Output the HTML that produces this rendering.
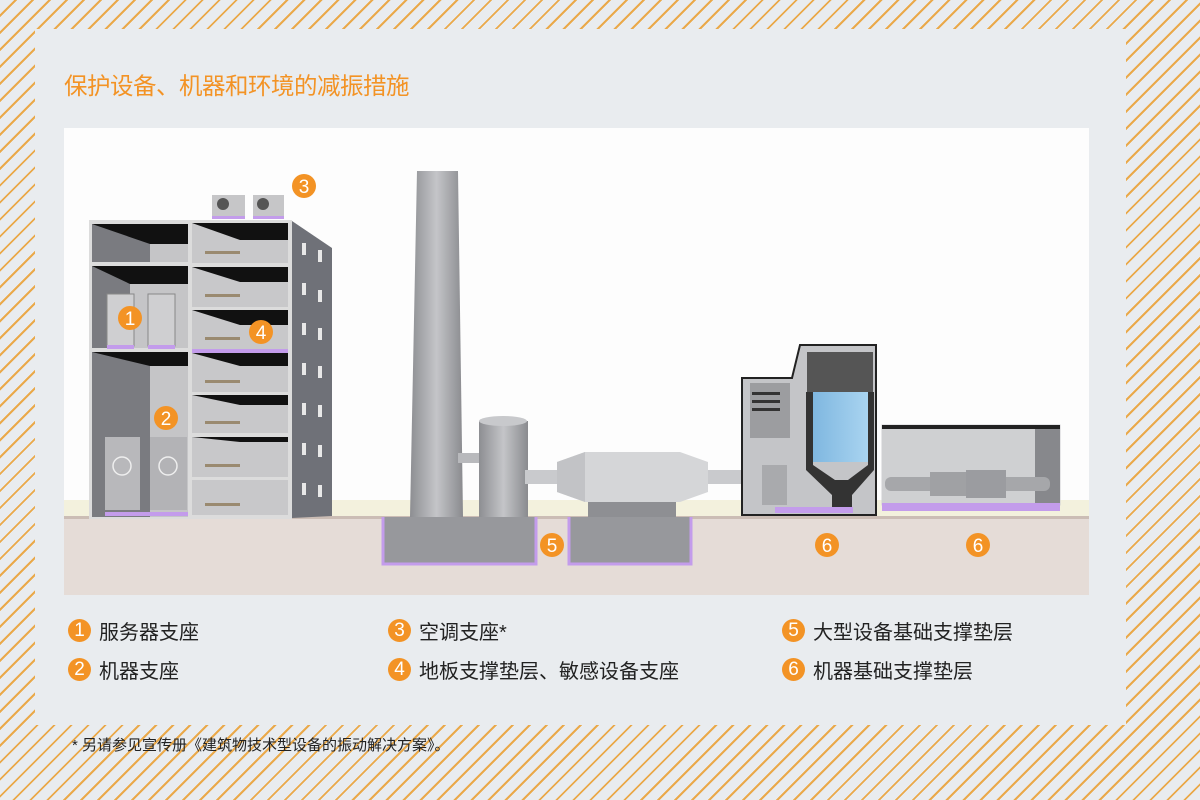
<!DOCTYPE html>
<html><head><meta charset="utf-8"><style>
html,body{margin:0;padding:0}
body{width:1200px;height:800px;overflow:hidden;position:relative;background-color:#e9ecef;
background-image:repeating-linear-gradient(-45deg,#e9ecef 0px,#e9ecef 10px,#eaa94a 10px,#eaa94a 12px);font-family:"Liberation Sans","Noto Sans CJK SC",sans-serif}
.panel{position:absolute;left:35px;top:29px;width:1091px;height:696px;background:#e9ecef}
.title{position:absolute;left:64px;top:67px;font-size:23.5px;color:#f39325;letter-spacing:-0.5px}
.leg{position:absolute;font-size:20px;color:#222;display:flex;align-items:center}
.num{display:inline-block;width:23px;height:23px;border-radius:50%;background:#f39325;color:#fff;font-size:19px;line-height:24px;text-align:center;margin-right:8px}
.foot{position:absolute;left:72px;top:734px;font-size:15px;color:#222}
</style></head><body>
<div class="panel"></div>
<div class="title">保护设备、机器和环境的减振措施</div>
<svg style="position:absolute;left:0;top:0" width="1200" height="800">
<defs>
<linearGradient id="cyl" x1="0" x2="1"><stop offset="0" stop-color="#8d8e92"/><stop offset="0.5" stop-color="#c4c5c8"/><stop offset="1" stop-color="#8a8b8f"/></linearGradient>
<linearGradient id="blue" x1="0" x2="1"><stop offset="0" stop-color="#7fb7e0"/><stop offset="1" stop-color="#a9d4f0"/></linearGradient>
</defs>
<rect x="64" y="128" width="1025" height="467" fill="#fdfdfd"/>
<rect x="64" y="500" width="1025" height="17" fill="#f3f1dd"/>
<rect x="64" y="516" width="1025" height="79" fill="#e5dcd7"/>
<rect x="64" y="516" width="1025" height="3" fill="#cbbdb5"/>
<rect x="89" y="220" width="203" height="299" fill="#dcdcdc"/>
<polygon points="292,221 332,248 332,516 292,518" fill="#6f7178"/>
<g fill="#e8e8e8">
<rect x="302" y="243" width="4" height="12"/><rect x="318" y="250" width="4" height="12"/>
<rect x="302" y="283" width="4" height="12"/><rect x="318" y="290" width="4" height="12"/>
<rect x="302" y="323" width="4" height="12"/><rect x="318" y="328" width="4" height="12"/>
<rect x="302" y="363" width="4" height="12"/><rect x="318" y="366" width="4" height="12"/>
<rect x="302" y="403" width="4" height="12"/><rect x="318" y="405" width="4" height="12"/>
<rect x="302" y="443" width="4" height="12"/><rect x="318" y="445" width="4" height="12"/>
<rect x="302" y="483" width="4" height="12"/><rect x="318" y="485" width="4" height="12"/>
</g>
<rect x="92" y="224" width="96" height="38" fill="#7a7b80"/><polygon points="92,224 188,224 188,244 150,244" fill="#111"/><rect x="150" y="244" width="38" height="18" fill="#c5c5c7"/>
<rect x="92" y="266" width="96" height="82" fill="#7a7b80"/><polygon points="92,266 188,266 188,284 130,284" fill="#111"/><rect x="130" y="284" width="58" height="64" fill="#c5c5c7"/>
<rect x="107" y="294" width="27" height="52" fill="#cfcfd1" stroke="#888" stroke-width="1"/><rect x="148" y="294" width="27" height="52" fill="#cfcfd1" stroke="#888"/>
<rect x="92" y="352" width="96" height="165" fill="#7a7b80"/><polygon points="92,352 188,352 188,366 150,366" fill="#111"/><rect x="150" y="366" width="38" height="151" fill="#c5c5c7"/>
<rect x="105" y="437" width="35" height="73" fill="#b8b8bb"/><rect x="150" y="437" width="37" height="73" fill="#b3b3b6"/>
<circle cx="122" cy="466" r="9" fill="none" stroke="#eee" stroke-width="1.5"/><circle cx="168" cy="466" r="9" fill="none" stroke="#eee" stroke-width="1.5"/>
<g>
<rect x="192" y="223" width="96" height="40" fill="#c8c8ca"/><polygon points="192,223 288,223 288,240 240,240" fill="#111"/>
<rect x="192" y="267" width="96" height="40" fill="#c8c8ca"/><polygon points="192,267 288,267 288,282 240,282" fill="#111"/>
<rect x="192" y="310" width="96" height="40" fill="#c8c8ca"/><polygon points="192,310 288,310 288,325 240,325" fill="#111"/>
<rect x="192" y="353" width="96" height="39" fill="#c8c8ca"/><polygon points="192,353 288,353 288,366 240,366" fill="#111"/>
<rect x="192" y="395" width="96" height="38" fill="#c8c8ca"/><polygon points="192,395 288,395 288,405 240,405" fill="#111"/>
<rect x="192" y="437" width="96" height="40" fill="#c8c8ca"/><polygon points="192,437 288,437 288,442 240,442" fill="#111"/>
<rect x="192" y="480" width="96" height="35" fill="#c8c8ca"/>
</g>
<g fill="#9a8a70"><rect x="205" y="251" width="35" height="3"/><rect x="205" y="294" width="35" height="3"/><rect x="205" y="337" width="35" height="3"/><rect x="205" y="380" width="35" height="3"/><rect x="205" y="421" width="35" height="3"/><rect x="205" y="464" width="35" height="3"/><rect x="205" y="503" width="35" height="3"/></g>
<rect x="212" y="195" width="33" height="23" fill="#c6c6c8"/><rect x="253" y="195" width="31" height="23" fill="#c6c6c8"/>
<circle cx="223" cy="204" r="6" fill="#555"/><circle cx="263" cy="204" r="6" fill="#555"/>
<g fill="#c39ceb">
<rect x="212" y="216" width="33" height="3"/><rect x="253" y="216" width="31" height="3"/>
<rect x="107" y="345" width="27" height="4"/><rect x="148" y="345" width="27" height="4"/>
<rect x="192" y="349" width="96" height="4"/>
<rect x="105" y="512" width="83" height="4"/>
</g>
<polygon points="417,171 458,171 463,517 410,517" fill="url(#cyl)"/>
<rect x="458" y="453" width="24" height="10" fill="#b8b9bc"/>
<rect x="479" y="421" width="49" height="96" fill="url(#cyl)"/><ellipse cx="503" cy="421" rx="24" ry="5" fill="#c8c9cc"/>
<rect x="525" y="470" width="35" height="14" fill="#c9cacd"/>
<polygon points="557,462 585,452 680,452 708,462 708,492 680,502 585,502 557,492" fill="#d5d6d8"/>
<polygon points="557,462 585,452 585,502 557,492" fill="#c2c3c6"/>
<rect x="588" y="502" width="88" height="15" fill="#8e8f93"/>
<rect x="708" y="470" width="36" height="14" fill="#c9cacd"/>
<rect x="383" y="517" width="153" height="47" fill="#97989c"/>
<rect x="569" y="517" width="122" height="47" fill="#97989c"/>
<path d="M383,517 V564 H536 V517" fill="none" stroke="#c39ceb" stroke-width="3"/>
<path d="M569,517 V564 H691 V517" fill="none" stroke="#c39ceb" stroke-width="3"/>
<polygon points="742,378 792,378 800,345 876,345 876,515 742,515" fill="#c4c5c8" stroke="#222" stroke-width="2"/>
<rect x="807" y="352" width="66" height="40" fill="#555"/>
<rect x="813" y="392" width="55" height="70" fill="url(#blue)"/>
<polygon points="806,392 813,392 813,465 835,480 848,480 868,465 868,392 874,392 874,470 852,495 852,510 832,510 832,495 806,470" fill="#333"/>
<rect x="750" y="383" width="40" height="55" fill="#9c9da0"/><g fill="#333"><rect x="752" y="392" width="28" height="3"/><rect x="752" y="400" width="28" height="3"/><rect x="752" y="408" width="28" height="3"/></g>
<rect x="762" y="465" width="25" height="40" fill="#a9aaad"/>
<rect x="775" y="507" width="78" height="6" fill="#c39ceb"/>
<rect x="882" y="425" width="178" height="80" fill="#cfd0d2" stroke="#cfd0d2"/>
<rect x="882" y="425" width="178" height="4" fill="#222"/>
<rect x="1035" y="429" width="25" height="76" fill="#87888c"/>
<rect x="885" y="477" width="165" height="14" rx="6" fill="#a6a7aa"/>
<rect x="930" y="472" width="45" height="24" fill="#a0a1a4"/><rect x="966" y="470" width="40" height="28" fill="#9b9ca0"/>
<rect x="882" y="503" width="178" height="8" fill="#c39ceb"/>
<g fill="#f39325"><circle cx="304" cy="186" r="12"/><circle cx="130" cy="318" r="12"/><circle cx="261" cy="332" r="12"/><circle cx="166" cy="418" r="12"/><circle cx="552" cy="545" r="12"/><circle cx="827" cy="545" r="12"/><circle cx="978" cy="545" r="12"/></g>
<g fill="#fff" font-size="19" text-anchor="middle" font-family="Liberation Sans,sans-serif">
<text x="304" y="193">3</text><text x="130" y="325">1</text><text x="261" y="339">4</text><text x="166" y="425">2</text><text x="552" y="552">5</text><text x="827" y="552">6</text><text x="978" y="552">6</text></g>
</svg>
<div class="leg" style="left:68px;top:616px"><span class="num">1</span>服务器支座</div>
<div class="leg" style="left:68px;top:655px"><span class="num">2</span>机器支座</div>
<div class="leg" style="left:388px;top:616px"><span class="num">3</span>空调支座*</div>
<div class="leg" style="left:388px;top:655px"><span class="num">4</span>地板支撑垫层、敏感设备支座</div>
<div class="leg" style="left:782px;top:616px"><span class="num">5</span>大型设备基础支撑垫层</div>
<div class="leg" style="left:782px;top:655px"><span class="num">6</span>机器基础支撑垫层</div>
<div class="foot">* 另请参见宣传册《建筑物技术型设备的振动解决方案》。</div>
</body></html>
